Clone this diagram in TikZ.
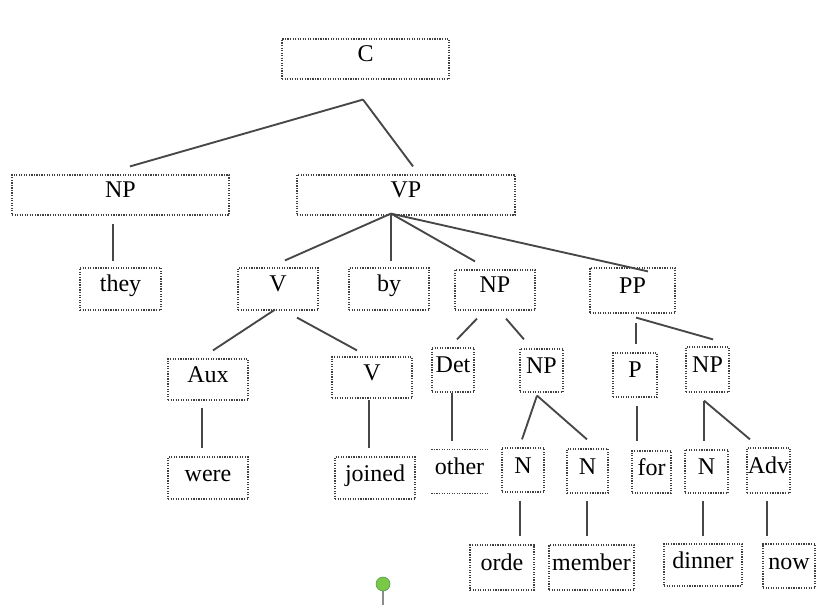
\documentclass[tikz,border=0pt]{standalone}
\usepackage{fontspec}
\setmainfont{Liberation Serif}
\definecolor{handlegreen}{RGB}{122,200,72}

\tikzset{
    tbox/.style={draw=black!75, densely dotted, line width=0.9pt, inner sep=0pt,
        text height=12pt, text depth=7.5pt, font=\fontsize{18}{20}\selectfont},
    openbox/.style={tbox, draw=none},
    boxsize/.style 2 args={minimum width=#1*0.75pt, minimum height=#2*0.75pt},
    branch/.style={draw=black!72, line width=1.4pt},
}

\begin{document}
\begin{tikzpicture}[x=0.75pt, y=-0.75pt]
    \useasboundingbox (0,0) rectangle (816,605);

    % clause level
    \node[tbox, boxsize={167}{40}] (C) at (365.5,59) {C};
    \node[tbox, boxsize={217}{40}] (NP) at (120.5,195) {NP};
    \node[tbox, boxsize={218}{40}] (VP) at (406,195) {VP};

    % phrase level
    \node[tbox, boxsize={81}{42}] (they) at (120.5,289) {they};
    \node[tbox, boxsize={80}{42}] (V) at (278,289) {V};
    \node[tbox, boxsize={80}{42}] (by) at (389,289) {by};
    \node[tbox, boxsize={80}{40}] (NPobj) at (495,290) {NP};
    \node[tbox, boxsize={85}{45}] (PP) at (632.5,290.5) {PP};

    \node[tbox, boxsize={80}{41}] (Aux) at (208,379.5) {Aux};
    \node[tbox, boxsize={80}{41}] (Vmain) at (372,377.5) {V};
    \node[tbox, boxsize={42}{44}] (Det) at (453,370) {Det};
    \node[tbox, boxsize={43}{43}] (NPn) at (541.5,370.5) {NP};
    \node[tbox, boxsize={44}{44}] (P) at (635,375) {P};
    \node[tbox, boxsize={43}{45}] (NPpp) at (707.5,369.5) {NP};

    % words and last categories
    \node[tbox, boxsize={80}{42}] (were) at (208,478) {were};
    \node[tbox, boxsize={80}{42}] (joined) at (375,478) {joined};
    \node[openbox, boxsize={55}{43}] (other) at (459.5,471.5) {other};
    \draw[tbox] (other.north west) -- (other.north east) (other.south west) -- (other.south east);
    \node[tbox, boxsize={42}{44}] (N1) at (523,470) {N};
    \node[tbox, boxsize={41}{44}] (N2) at (587.5,471) {N};
    \node[tbox, boxsize={39}{42}] (for) at (651.5,472) {for};
    \node[tbox, boxsize={43}{43}] (N3) at (706.5,471.5) {N};
    \node[tbox, boxsize={43}{45}] (Adv) at (768.5,470.5) {Adv};

    \node[tbox, boxsize={64}{45}] (orde) at (502,567.5) {orde};
    \node[tbox, boxsize={85}{45}] (member) at (591.5,567.5) {member};
    \node[tbox, boxsize={78}{42}] (dinner) at (703,565) {dinner};
    \node[tbox, boxsize={52}{44}] (now) at (789,566) {now};

    % branches
    \draw[branch] ([shift={(-2.5,20)}]C.south) -- ([shift={(9.5,-8)}]NP.north);
    \draw[branch] ([shift={(-2.5,20)}]C.south) -- ([shift={(7,-8)}]VP.north);
    \draw[branch] ([shift={(-7.5,8)}]NP.south) -- ([shift={(-7.5,-6)}]they.north);

    \draw[branch] ([shift={(-15,-2)}]VP.south) -- ([shift={(7,-7)}]V.north);
    \draw[branch] ([shift={(-15,-2)}]VP.south) -- ([shift={(2,-6)}]by.north);
    \draw[branch] ([shift={(-15,-2)}]VP.south) -- ([shift={(-20,-8)}]NPobj.north);
    \draw[branch] ([shift={(-15,-2)}]VP.south) -- ([shift={(15.5,4)}]PP.north);

    \draw[branch] ([shift={(-3,-1)}]V.south) -- ([shift={(5,-8)}]Aux.north);
    \draw[branch] ([shift={(19,7)}]V.south) -- ([shift={(-15,-6)}]Vmain.north);
    \draw[branch] ([shift={(-18,8)}]NPobj.south) -- ([shift={(4,-8)}]Det.north);
    \draw[branch] ([shift={(11,8)}]NPobj.south) -- ([shift={(-17.5,-9)}]NPn.north);
    \draw[branch] ([shift={(3.5,9)}]PP.south) -- ([shift={(1,-8)}]P.north);
    \draw[branch] ([shift={(3.5,4)}]PP.south) -- ([shift={(5.5,-7)}]NPpp.north);

    \draw[branch] ([shift={(-6,7)}]Aux.south) -- ([shift={(-6,-8)}]were.north);
    \draw[branch] ([shift={(-3,1)}]Vmain.south) -- ([shift={(-6,-8)}]joined.north);
    \draw[branch] ([shift={(-1,0)}]Det.south) -- ([shift={(-7.5,-8)}]other.north);
    \draw[branch] ([shift={(-4.5,3)}]NPn.south) -- ([shift={(-1,-8)}]N1.north);
    \draw[branch] ([shift={(-4.5,3)}]NPn.south) -- ([shift={(-0.5,-9)}]N2.north);
    \draw[branch] ([shift={(2,8)}]P.south) -- ([shift={(-14.5,-9)}]for.north);
    \draw[branch] ([shift={(-3.5,8)}]NPpp.south) -- ([shift={(-2.5,-8)}]N3.north);
    \draw[branch] ([shift={(-3.5,8)}]NPpp.south) -- ([shift={(-18.5,-8)}]Adv.north);

    \draw[branch] ([shift={(-3,8)}]N1.south) -- ([shift={(18,-8)}]orde.north);
    \draw[branch] ([shift={(-0.5,7)}]N2.south) -- ([shift={(-4.5,-8)}]member.north);
    \draw[branch] ([shift={(-3.5,7)}]N3.south) -- ([shift={(0,-7)}]dinner.north);
    \draw[branch] ([shift={(-1.5,7)}]Adv.south) -- ([shift={(-22,-7)}]now.north);

    % rotation handle
    \draw[black!45, line width=1pt] (383,591) -- (383,605);
    \draw[fill=handlegreen, draw=green!40!black!70] (383,584) circle[radius=7];
\end{tikzpicture}
\end{document}
